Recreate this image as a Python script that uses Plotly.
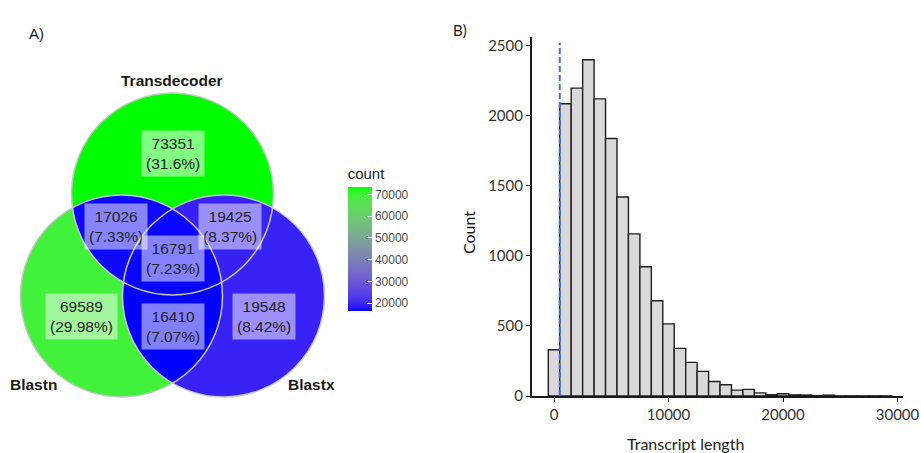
import numpy as np
import plotly.graph_objects as go

# ---------------- data ----------------
# Venn diagram (panel A)
set_names = ["Transdecoder", "Blastn", "Blastx"]
# membership of each region in (Transdecoder, Blastn, Blastx)
region_members = [(1, 0, 0), (0, 1, 0), (0, 0, 1), (1, 1, 0), (1, 0, 1), (0, 1, 1), (1, 1, 1)]
region_counts = [73351, 69589, 19548, 17026, 19425, 16410, 16791]
colorbar_ticks = [20000, 30000, 40000, 50000, 60000, 70000]

# Histogram (panel B)
bin_centers = list(range(0, 30000, 1000))
bin_counts = [330, 2085, 2197, 2400, 2120, 1838, 1420, 1157, 922, 680,
              515, 340, 240, 176, 104, 80, 42, 47, 22, 9,
              16, 8, 7, 2, 6, 1, 1, 1, 1, 1]
bin_width = 1000
threshold = 500
hist_xticks = [0, 10000, 20000, 30000]
hist_yticks = [0, 500, 1000, 1500, 2000, 2500]

# ---------------- layout geometry (pixel units of the venn axes) ----------------
circle_centers = {"Transdecoder": (172.5, 194.0), "Blastn": (121.5, 296.0), "Blastx": (223.5, 296.0)}
radius = 101.0
label_pos = [(172.7, 153.0), (81.7, 316.7), (263.5, 316.7), (115.5, 226.7),
             (230.0, 226.7), (172.5, 326.7), (172.5, 258.7)]
set_label_pos = {"Transdecoder": (172.3, 80.0), "Blastn": (33.5, 384.5), "Blastx": (311.0, 384.5)}


# ---------------- Lab colour ramp (blue -> green) ----------------
M_RGB2XYZ = np.array([[0.4124564, 0.3575761, 0.1804375],
                      [0.2126729, 0.7151522, 0.0721750],
                      [0.0193339, 0.1191920, 0.9503041]])
WHITE = np.array([0.95047, 1.0, 1.08883])


def srgb_to_lab(rgb):
    c = np.array(rgb, dtype=float) / 255.0
    lin = np.where(c <= 0.04045, c / 12.92, ((c + 0.055) / 1.055) ** 2.4)
    xyz = M_RGB2XYZ @ lin / WHITE
    d = 6 / 29
    f = np.where(xyz > d ** 3, np.cbrt(xyz), xyz / (3 * d * d) + 4 / 29)
    return np.array([116 * f[1] - 16, 500 * (f[0] - f[1]), 200 * (f[1] - f[2])])


def lab_to_srgb(lab):
    L, a, b = lab
    fy = (L + 16) / 116
    fs = np.array([fy + a / 500, fy, fy - b / 200])
    d = 6 / 29
    xyz = np.where(fs > d, fs ** 3, 3 * d * d * (fs - 4 / 29)) * WHITE
    lin = np.clip(np.linalg.inv(M_RGB2XYZ) @ xyz, 0, 1)
    c = np.where(lin <= 0.0031308, 12.92 * lin, 1.055 * lin ** (1 / 2.4) - 0.055)
    c = np.clip(np.round(c * 255), 0, 255).astype(int)
    return "rgb(%d,%d,%d)" % tuple(c)


lab_lo = srgb_to_lab((0, 0, 255))
lab_hi = srgb_to_lab((0, 255, 0))
colorscale = [[t, lab_to_srgb(lab_lo + (lab_hi - lab_lo) * t)] for t in np.linspace(0, 1, 31)]

# ---------------- venn raster ----------------
xs = np.arange(15.5, 332, 1.0)
ys = np.arange(85.5, 404, 1.0)
X, Y = np.meshgrid(xs, ys)
inside = [((X - cx) ** 2 + (Y - cy) ** 2) <= radius ** 2
          for cx, cy in (circle_centers[n] for n in set_names)]
Z = np.full(X.shape, np.nan)
for mem, cnt in zip(region_members, region_counts):
    mask = np.ones(X.shape, dtype=bool)
    for k, m in enumerate(mem):
        mask &= inside[k] if m else ~inside[k]
    Z[mask] = cnt

fig = go.Figure()
fig.add_trace(go.Heatmap(
    x=xs, y=ys, z=Z, colorscale=colorscale, hoverinfo="skip",
    zmin=min(region_counts), zmax=max(region_counts),
    xaxis="x", yaxis="y",
    colorbar=dict(
        title=dict(text="count", side="top", font=dict(family="Liberation Sans", size=15, color="#1a1a1a")),
        tickvals=colorbar_ticks, ticktext=[str(v) for v in colorbar_ticks],
        tickfont=dict(family="Liberation Sans", size=12, color="#4d4d4d"),
        ticks="inside", ticklen=5, tickcolor="white", tickwidth=1,
        thickness=24, thicknessmode="pixels",
        len=146, lenmode="pixels",
        x=347.7 / 921, xanchor="left", xpad=0,
        y=1 - 311 / 453, yanchor="bottom", ypad=0,
        outlinewidth=0,
    ),
))

total = sum(region_counts)
shapes = []
annotations = []
for n in set_names:
    cx, cy = circle_centers[n]
    shapes.append(dict(type="circle", xref="x", yref="y", x0=cx - radius, x1=cx + radius,
                       y0=cy - radius, y1=cy + radius, line=dict(color="#c8c8c8", width=1.5)))
    lx, ly = set_label_pos[n]
    annotations.append(dict(x=lx, y=ly, xref="x", yref="y", text="<b>%s</b>" % n, showarrow=False,
                            font=dict(family="Liberation Sans", size=15.5, color="#1a1a1a")))

for (lx, ly), cnt in zip(label_pos, region_counts):
    pct = "%g" % round(cnt / total * 100, 2)
    annotations.append(dict(x=lx, y=ly, xref="x", yref="y", text="%d<br>(%s%%)" % (cnt, pct),
                            showarrow=False, bgcolor="rgba(255,255,255,0.5)", borderpad=4,
                            font=dict(family="Liberation Sans", size=15.5, color="#222222")))

# ---------------- histogram ----------------
fig.add_trace(go.Bar(x=bin_centers, y=bin_counts, width=bin_width, xaxis="x2", yaxis="y2",
                     marker=dict(color="#d9d9d9", line=dict(color="#1f1f1f", width=1.4)),
                     hoverinfo="x+y"))
shapes.append(dict(type="line", xref="x2", yref="y2", x0=threshold, x1=threshold, y0=0, y1=2520,
                   line=dict(color="#3d6dff", width=2, dash="6px,3px"), layer="above"))

annotations += [
    dict(x=26.7 / 921, y=1 - 22.7 / 453, xref="paper", yref="paper", text="A)", showarrow=False,
         font=dict(family="Liberation Sans", size=15, color="#1a1a1a")),
    dict(x=460 / 921, y=1 - 19 / 453, xref="paper", yref="paper", text="B)", showarrow=False,
         font=dict(family="Lato", size=15, color="#1a1a1a")),
    dict(x=469 / 921, y=1 - 233 / 453, xref="paper", yref="paper", text="Count", showarrow=False,
         textangle=-90, font=dict(family="Lato", size=16, color="#1a1a1a")),
    dict(x=746 / 921, y=1 - 432 / 453, xref="paper", yref="paper", yanchor="top",
         text="Transcript length", showarrow=False,
         font=dict(family="Lato", size=16, color="#1a1a1a")),
]

axis_common = dict(showgrid=False, zeroline=False, showline=True, linecolor="#1a1a1a", linewidth=1.5,
                   ticks="outside", ticklen=4, tickcolor="#1a1a1a", tickwidth=1.2,
                   tickfont=dict(family="Lato", size=15, color="#333333"), fixedrange=True)

fig.update_layout(
    width=921, height=453, margin=dict(l=0, r=0, t=0, b=0, autoexpand=False),
    paper_bgcolor="white", plot_bgcolor="white", showlegend=False,
    xaxis=dict(domain=[0, 340 / 921], range=[0, 340], visible=False, fixedrange=True),
    yaxis=dict(domain=[0, 1], range=[453, 0], visible=False, fixedrange=True),
    xaxis2=dict(domain=[531.7 / 921, 903 / 921], range=[-1950, 30480], anchor="y2",
                tickvals=hist_xticks, ticktext=[str(v) for v in hist_xticks], **axis_common),
    yaxis2=dict(domain=[1 - 396 / 453, 1 - 36.7 / 453], range=[0, 2564], anchor="x2",
                tickvals=hist_yticks, ticktext=[str(v) for v in hist_yticks], **axis_common),
    shapes=shapes, annotations=annotations,
)

# remove the browser's default page margin so the figure sits at the window's top-left corner
fig.write_html("out.html", config={"displayModeBar": False},
               post_script="document.body.style.margin='0px';")
